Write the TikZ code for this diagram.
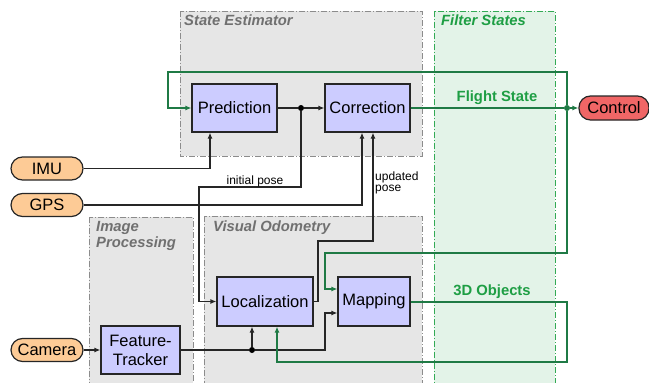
\documentclass[tikz,border=0pt]{standalone}
\usepackage{fontspec}
\setmainfont{Liberation Sans}
\usetikzlibrary{arrows.meta}
\definecolor{nodefill}{HTML}{CCCCFF}
\definecolor{srcfill}{HTML}{FDCB96}
\definecolor{ctrlfill}{HTML}{F06666}
\definecolor{grpfill}{HTML}{E6E6E6}
\definecolor{grpline}{HTML}{8C8C8C}
\definecolor{grptext}{HTML}{707070}
\definecolor{fsfill}{HTML}{E3F3E8}
\definecolor{fsline}{HTML}{33AA55}
\definecolor{gline}{HTML}{1F7A45}
\definecolor{gtext}{HTML}{1E9E44}
\tikzset{
  proc/.style={draw=black!85, line width=1.2pt, fill=nodefill, inner sep=0pt, minimum height=48pt, font=\fontsize{16.5}{19}\selectfont, align=center},
  src/.style={draw=black!85, line width=1.2pt, fill=srcfill, rounded corners=11.5pt, inner sep=0pt, minimum width=72pt, minimum height=23pt, font=\fontsize{16.5}{19}\selectfont},
  grp/.style={draw=grpline, fill=grpfill, line width=0.9pt, dash pattern=on 6pt off 2pt on 1pt off 2pt},
  grplabel/.style={anchor=north west, inner sep=0pt, text=grptext, font=\fontsize{14.8}{17}\selectfont\bfseries\itshape, align=left},
  conn/.style={draw=black!85, line width=1.2pt},
  arr/.style={-{Latex[length=6pt,width=5pt]}},
  gconn/.style={draw=gline, line width=1.2pt},
  dotb/.style={circle, fill=black, inner sep=0pt, minimum size=6pt},
  dotg/.style={circle, fill=gline, inner sep=0pt, minimum size=6pt},
  small/.style={font=\fontsize{12}{12.5}\selectfont, inner sep=0pt, align=left}
}
\begin{document}
\begin{tikzpicture}[x=1pt,y=-1pt]
\useasboundingbox (0,0) rectangle (649,383);
% groups
\path[grp] (180,11) rectangle (422,156);
\node[grplabel] (lse) at (184,15) {State Estimator};
\path[grp] (89,217) rectangle (193,390);
\node[grplabel] (lip) at (96,221) {Image\\[-1pt]Processing};
\path[grp] (204,216) rectangle (422,390);
\node[grplabel] (lvo) at (213,221) {Visual Odometry};
\path[draw=fsline, fill=fsfill, line width=0.9pt, dash pattern=on 6pt off 2pt on 1pt off 2pt] (434,11) rectangle (555,390);
\node[grplabel, text=gtext] (lfs) at (441,15) {Filter States};

% nodes
\node[proc, minimum width=85pt] (pred) at (234.5,108) {Prediction};
\node[proc, minimum width=85pt] (corr) at (367.5,108) {Correction};
\node[proc, minimum width=96pt, minimum height=49pt] (loc) at (265,301.5) {Localization};
\node[proc, minimum width=72pt, minimum height=49pt] (map) at (374,301.5) {Mapping};
\node[proc, minimum width=79pt] (ft) at (140.5,350) {Feature-\\Tracker};
\node[src] (imu) at (47,168.5) {IMU};
\node[src] (gps) at (47,205) {GPS};
\node[src] (cam) at (47,350) {Camera};
\node[src, fill=ctrlfill, minimum width=70pt, minimum height=24pt] (ctrl) at (614,108) {Control};

% junctions
\node[dotb] (j1) at (301,108) {};
\node[dotb] (j2) at (252,350) {};
\node[dotg] (j3) at (567,108) {};
\coordinate (c1) at (301,187);
\coordinate (c2) at (199,187);
\coordinate (c3) at (318,241);
\coordinate (c4) at (373,241);
\coordinate (c5) at (325,350);
\coordinate (c6) at (325,313);
\coordinate (g1) at (567,72);
\coordinate (g2) at (168,72);
\coordinate (g3) at (567,253);
\coordinate (g4) at (325,253);
\coordinate (g5) at (567,302);
\coordinate (g6) at (567,362);
\coordinate (g7) at (277,362);

% black connectors
\draw[conn] (pred.east) -- (j1);
\draw[conn, arr] (j1) -- (corr.west);
\draw[conn, arr] (imu.east) -| (pred.south -| 210,0);
\draw[conn, arr] (gps.east) -| (corr.south -| 362,0);
\draw[conn, arr] (j1) -- (c1) -- (c2) |- (loc.west);
\draw[conn, arr] (loc.east) -- (loc.east -| c3) -- (c3) -- (c4) -- (corr.south -| c4);
\draw[conn, arr] (cam.east) -- (ft.west);
\draw[conn] (ft.east) -- (j2);
\draw[conn, arr] (j2) -- (c5) -- (c6) -- (map.west |- c6);
\draw[conn, arr] (j2) -- (loc.south -| j2);

% green connectors
\draw[gconn] (corr.east) -- (j3);
\draw[gconn, arr] (j3) -- (ctrl.west);
\draw[gconn, arr] (j3) -- (g1) -- (g2) |- (pred.west);
\draw[gconn, arr] (j3) -- (g3) -- (g4) |- (map.west |- 0,289);
\draw[gconn, arr] (map.east |- g5) -- (g5) -- (g6) -- (g7) -- (loc.south -| g7);

% labels
\node[small] (lip1) at (255,181) {initial pose};
\node[small, anchor=north west] (lup) at (375,172) {updated\\[-2pt]pose};
\node[font=\fontsize{14.8}{17}\selectfont\bfseries, text=gtext, inner sep=0pt] (lfl) at (497,98) {Flight State};
\node[font=\fontsize{14.8}{17}\selectfont\bfseries, text=gtext, inner sep=0pt] (l3d) at (492,292) {3D Objects};
\end{tikzpicture}
\end{document}
